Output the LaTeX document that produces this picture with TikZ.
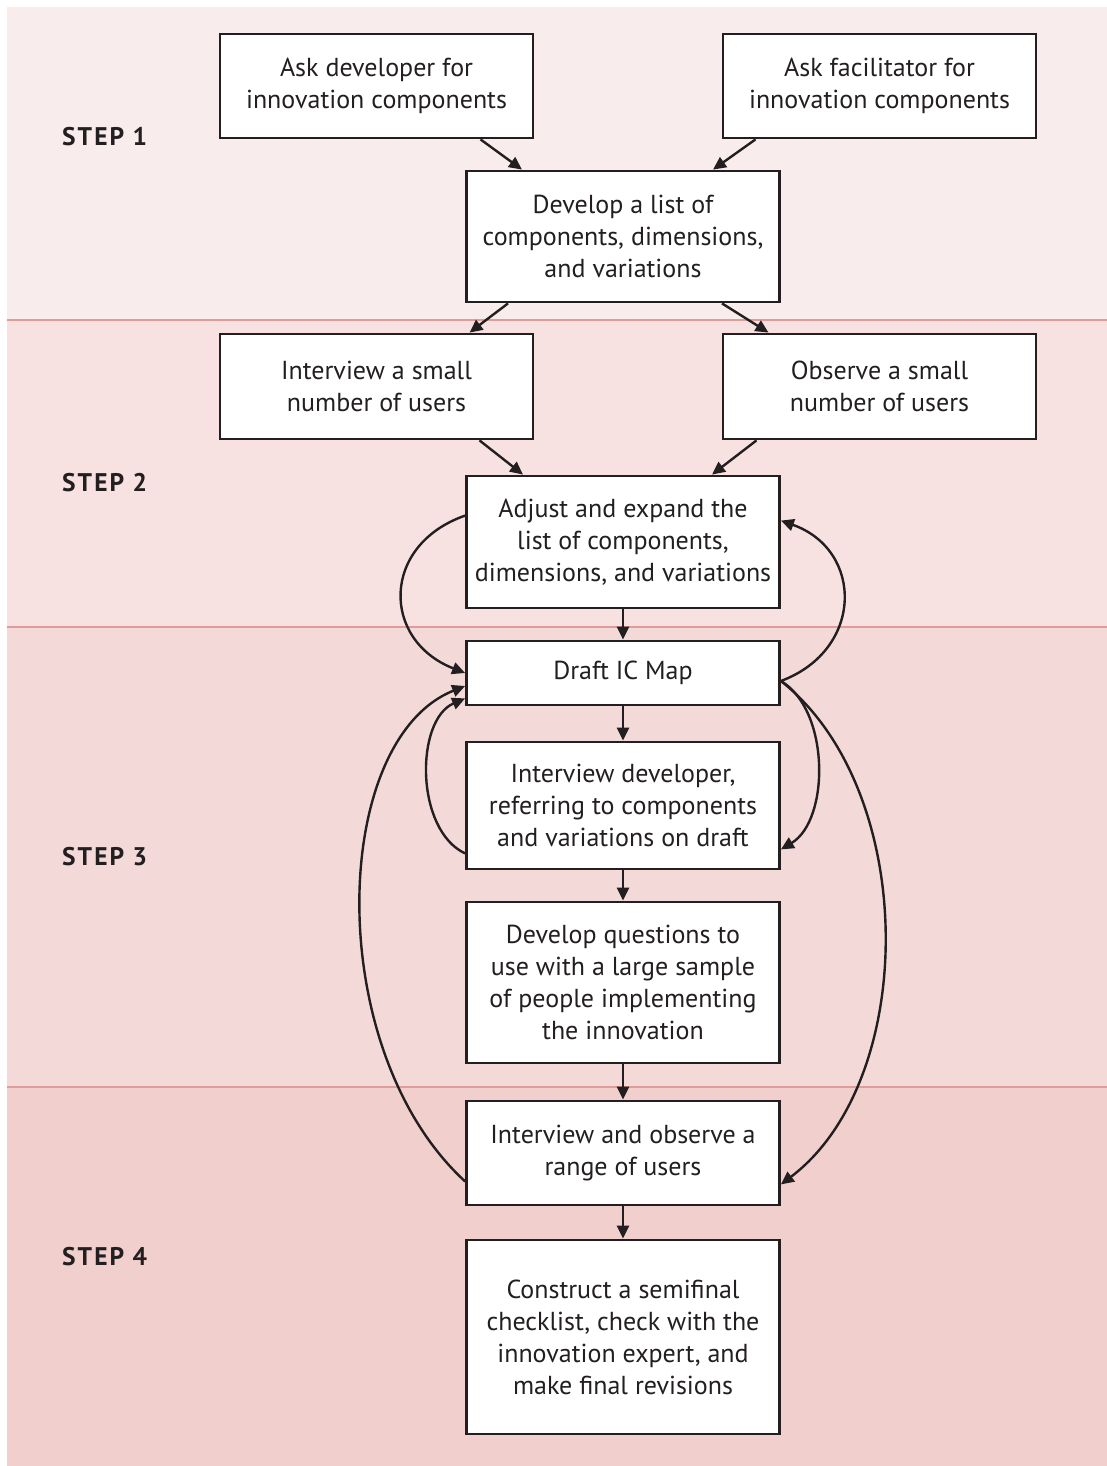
\documentclass[tikz,border=0pt]{standalone}
\usepackage{fontspec}
\setmainfont{PT Sans}
\newfontfamily\stepfont[LetterSpace=8]{PT Sans}
\usetikzlibrary{arrows.meta}
\definecolor{ink}{HTML}{231F20}
\definecolor{bandA}{HTML}{F9ECEC}
\definecolor{bandB}{HTML}{F7E2E1}
\definecolor{bandC}{HTML}{F3DAD8}
\definecolor{bandD}{HTML}{F0CFCC}
\definecolor{divider}{HTML}{E09C9A}
\tikzset{
  box/.style={draw=ink, line width=2.8pt, fill=white, inner sep=0pt,
    minimum width=313pt, align=center, text=ink,
    font=\fontsize{26}{32}\selectfont},
  steplabel/.style={anchor=west, text=ink, inner sep=0pt,
    font=\stepfont\fontsize{25.5}{30}\selectfont\bfseries},
  conn/.style={draw=ink, line width=2.4pt, -{Triangle[length=13pt,width=12pt]}},
  divline/.style={draw=divider, line width=2pt}
}
\begin{document}
\begin{tikzpicture}[x=1pt,y=-1pt]
\useasboundingbox (0,0) rectangle (1107,1466);
% bands
\fill[bandA] (7,7) rectangle (1107,320);
\fill[bandB] (7,320) rectangle (1107,627);
\fill[bandC] (7,627) rectangle (1107,1087);
\fill[bandD] (7,1087) rectangle (1107,1466);
\draw[divline] (7,320) -- (1107,320);
\draw[divline] (7,627) -- (1107,627);
\draw[divline] (7,1087) -- (1107,1087);
% step labels
\node[steplabel] (s1) at (62,137) {STEP 1};
\node[steplabel] (s2) at (62,483) {STEP 2};
\node[steplabel] (s3) at (62,857) {STEP 3};
\node[steplabel] (s4) at (62,1257) {STEP 4};
% boxes
\node[box, minimum height=104pt] (A) at (376.5,86) {Ask developer for\\innovation components};
\node[box, minimum height=104pt] (B) at (879.5,86) {Ask facilitator for\\innovation components};
\node[box, minimum height=131pt] (C) at (623,236.5) {Develop a list of\\components, dimensions,\\and variations};
\node[box, minimum height=105pt] (D) at (376.5,386.5) {Interview a small\\number of users};
\node[box, minimum height=105pt] (E) at (879.5,386.5) {Observe a small\\number of users};
\node[box, minimum height=132pt] (F) at (623,542) {Adjust and expand the\\list of components,\\dimensions, and variations};
\node[box, minimum height=64pt] (G) at (623,673) {Draft IC Map};
\node[box, minimum height=127pt] (H) at (623,805.5) {Interview developer,\\referring to components\\and variations on draft};
\node[box, minimum height=161pt] (I) at (623,982.5) {Develop questions to\\use with a large sample\\of people implementing\\the innovation};
\node[box, minimum height=104pt] (J) at (623,1153) {Interview and observe a\\range of users};
\node[box, minimum height=194pt] (K) at (623,1337) {Construct a semifinal\\checklist, check with the\\innovation expert, and\\make final revisions};
% straight connectors
\draw[conn] ([xshift=104pt]A.south) -- ([xshift=-101pt]C.north);
\draw[conn] ([xshift=-124pt]B.south) -- ([xshift=90pt]C.north);
\draw[conn] ([xshift=-115pt]C.south) -- ([xshift=93pt]D.north);
\draw[conn] ([xshift=99pt]C.south) -- ([xshift=-111pt]E.north);
\draw[conn] ([xshift=103pt]D.south) -- ([xshift=-100pt]F.north);
\draw[conn] ([xshift=-123pt]E.south) -- ([xshift=89pt]F.north);
\draw[conn] (F.south) -- (G.north);
\draw[conn] (G.south) -- (H.north);
\draw[conn] (H.south) -- (I.north);
\draw[conn] (I.south) -- (J.north);
\draw[conn] (J.south) -- (K.north);
% curved feedback connectors
\draw[conn] ([yshift=-41pt]F.north west) .. controls (381,545) and (381,640) .. (G.west);
\draw[conn] ([yshift=-8pt]G.east) .. controls (864,650) and (864,550) .. ([yshift=-46pt]F.north east);
\draw[conn] ([yshift=17pt]H.south west) .. controls (415,830) and (415,720) .. ([yshift=8pt]G.south west);
\draw[conn] ([yshift=-8pt]G.east) .. controls (830,710) and (830,820) .. ([yshift=21pt]H.south east);
\draw[conn] ([yshift=25pt]J.south west) .. controls (322,1050) and (330,740) .. ([yshift=-13pt]G.west);
\draw[conn] ([yshift=-8pt]G.east) .. controls (919,790) and (919,1080) .. ([yshift=22pt]J.south east);
\end{tikzpicture}
\end{document}
